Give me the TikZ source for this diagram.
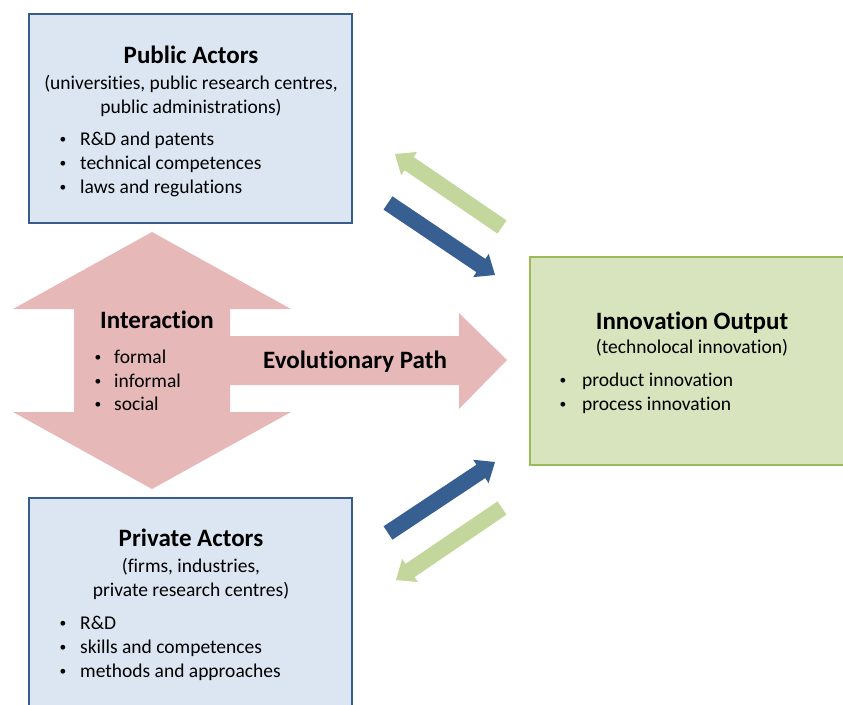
\documentclass[tikz,border=0pt]{standalone}
\usepackage{fontspec}
\setmainfont{Carlito}[Ligatures=NoCommon]
\usetikzlibrary{calc}
\definecolor{boxblue}{HTML}{DCE6F2}
\definecolor{boxblueline}{HTML}{385D8A}
\definecolor{boxgreen}{HTML}{D7E4BD}
\definecolor{boxgreenline}{HTML}{9BBB59}
\definecolor{pinkarrow}{HTML}{E6B9B8}
\definecolor{darkarrow}{HTML}{375F91}
\definecolor{lightarrow}{HTML}{C3D69B}
\newcommand{\blockarrow}[3]{%
  \coordinate (ba-h) at ($(#3)!17pt!(#2)$);
  \fill[#1] ($(#2)!8pt!90:(#3)$) -- ($(ba-h)!8pt!90:(#3)$) -- ($(ba-h)!14pt!90:(#3)$) -- (#3)
    -- ($(ba-h)!14pt!-90:(#3)$) -- ($(ba-h)!8pt!-90:(#3)$) -- ($(#2)!8pt!-90:(#3)$) -- cycle;
}
\begin{document}
\begin{tikzpicture}[x=1pt,y=-1pt,
  title/.style={inner sep=0pt,anchor=base,font=\fontsize{25}{30}\selectfont\bfseries},
  sub/.style={inner sep=0pt,anchor=base,font=\fontsize{19.5}{24}\selectfont},
  item/.style={inner sep=0pt,anchor=base west,font=\fontsize{19.5}{24}\selectfont},
  dot/.style={inner sep=0pt,anchor=base,yshift=2pt,font=\fontsize{13.5}{16}\selectfont},
  actorbox/.style={draw=boxblueline,fill=boxblue,line width=2pt},
  outbox/.style={draw=boxgreenline,fill=boxgreen,line width=2.5pt},
  forward/.style={fill=darkarrow},
  backward/.style={fill=lightarrow}]
\clip (0,0) rectangle (843,704);
\fill[white] (0,0) rectangle (843,704);

% boxes
\draw[actorbox] (29,13.5) rectangle (352,222.5);
\draw[actorbox] (29,498) rectangle (352,730);
\draw[outbox] (530,257) rectangle (860,465);

% pink interaction / evolutionary path shape
\fill[pinkarrow] (152,232) -- (291,309) -- (230,309) -- (230,336) -- (459,336) -- (459,313)
  -- (507,360) -- (459,409) -- (459,385) -- (230,385) -- (230,412) -- (291,412)
  -- (152,489) -- (13,412) -- (74,412) -- (74,309) -- (13,309) -- cycle;

% Public actors text
\node[title] (pubt) at (191,63) {Public Actors};
\node[sub] (pubs1) at (191,89) {(universities, public research centres,};
\node[sub] (pubs2) at (191,113) {public administrations)};
\node[dot] (pubd1) at (63,145.5) {•};
\node[item] (pubi1) at (80,145.5) {R\&D and patents};
\node[dot] (pubd2) at (63,169.5) {•};
\node[item] (pubi2) at (80,169.5) {technical competences};
\node[dot] (pubd3) at (63,193.5) {•};
\node[item] (pubi3) at (80,193.5) {laws and regulations};

% Private actors text
\node[title] (prit) at (191,546.5) {Private Actors};
\node[sub] (pris1) at (191,572.5) {(firms, industries,};
\node[sub] (pris2) at (191,596.5) {private research centres)};
\node[dot] (prid1) at (63,629.5) {•};
\node[item] (prii1) at (80,629.5) {R\&D};
\node[dot] (prid2) at (63,653.5) {•};
\node[item] (prii2) at (80,653.5) {skills and competences};
\node[dot] (prid3) at (63,677.5) {•};
\node[item] (prii3) at (80,677.5) {methods and approaches};

% Innovation output text
\node[title] (inot) at (692,329) {Innovation Output};
\node[sub] (inos) at (692,353) {(technolocal innovation)};
\node[dot] (inod1) at (563,386.5) {•};
\node[item] (inoi1) at (582,386.5) {product innovation};
\node[dot] (inod2) at (563,410.5) {•};
\node[item] (inoi2) at (582,410.5) {process innovation};

% Interaction text
\node[title] (intt) at (157,328.5) {Interaction};
\node[dot] (intd1) at (98,363.5) {•};
\node[item] (inti1) at (114,363.5) {formal};
\node[dot] (intd2) at (98,387) {•};
\node[item] (inti2) at (114,387) {informal};
\node[dot] (intd3) at (98,410.5) {•};
\node[item] (inti3) at (114,410.5) {social};
\node[title] (evo) at (355,368.5) {Evolutionary Path};

% block arrows
\coordinate (a1s) at (388,203); \coordinate (a1e) at (495,275);
\coordinate (a2s) at (502,227); \coordinate (a2e) at (395,154);
\coordinate (a3s) at (388,533); \coordinate (a3e) at (495,462);
\coordinate (a4s) at (502,508); \coordinate (a4e) at (396,580);
\blockarrow{forward}{a1s}{a1e}
\blockarrow{backward}{a2s}{a2e}
\blockarrow{forward}{a3s}{a3e}
\blockarrow{backward}{a4s}{a4e}
\end{tikzpicture}
\end{document}
